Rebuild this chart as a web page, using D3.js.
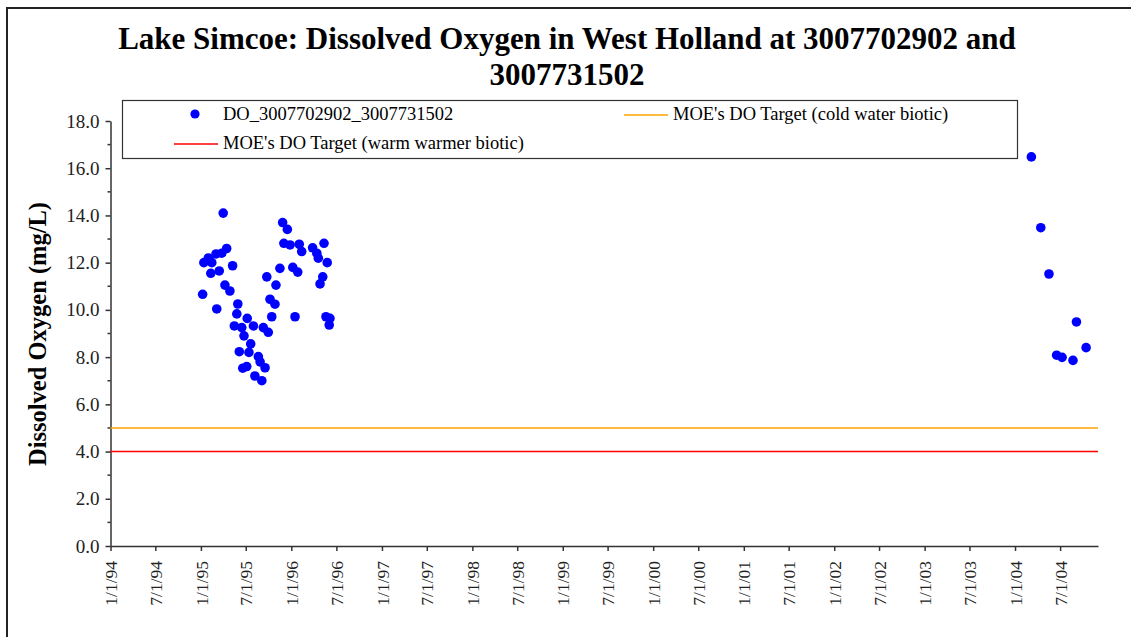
<!DOCTYPE html>
<html>
<head>
<meta charset="utf-8">
<script src="https://cdn.jsdelivr.net/npm/d3@7"></script>
<style>
  html, body { margin: 0; padding: 0; background: #fff; }
  svg { display: block; font-family: "Liberation Serif", "Times New Roman", serif; }
</style>
</head>
<body>
<svg id="chart"></svg>
<script>
const W = 1131;
const H = 637;

// ── Data ──────────────────────────────────────────────────────────────────────

const TITLE_LINES = [
  'Lake Simcoe: Dissolved Oxygen in West Holland at 3007702902 and',
  '3007731502',
];
const Y_LABEL = 'Dissolved Oxygen (mg/L)';
const SERIES_NAME = 'DO_3007702902_3007731502';

const SAMPLE_DATES = [
  '1995-01-08', '1995-01-13', '1995-01-31', '1995-02-10', '1995-02-14',
  '1995-03-03', '1995-03-06', '1995-03-16', '1995-03-26', '1995-04-01',
  '1995-04-08', '1995-04-15', '1995-04-28', '1995-05-09', '1995-05-16',
  '1995-05-26', '1995-05-30', '1995-06-05', '1995-06-15', '1995-06-19',
  '1995-06-24', '1995-07-05', '1995-07-07', '1995-07-14', '1995-07-21',
  '1995-08-01', '1995-08-07', '1995-08-21', '1995-08-28', '1995-09-04',
  '1995-09-10', '1995-09-17', '1995-09-24', '1995-09-30', '1995-10-07',
  '1995-10-14', '1995-10-27', '1995-10-31', '1995-11-16', '1995-11-27',
  '1995-12-02', '1995-12-16', '1995-12-27', '1996-01-07', '1996-01-16',
  '1996-01-27', '1996-02-02', '1996-02-12', '1996-03-27', '1996-04-13',
  '1996-04-19', '1996-04-26', '1996-05-07', '1996-05-12', '1996-05-20',
  '1996-05-25', '1996-06-02', '1996-06-05',
  '2004-03-07', '2004-04-14', '2004-05-17', '2004-06-17', '2004-07-09',
  '2004-08-22', '2004-09-05', '2004-10-14',
];

const DO_VALUES = [
  10.66, 12.0, 12.2, 11.55, 12.0,
  12.37, 10.04, 11.65, 12.4, 14.1,
  11.05, 12.6, 10.8, 11.87, 9.32,
  9.83, 10.25, 8.23, 9.25, 7.53,
  8.9, 7.6, 9.64, 8.2, 8.56,
  9.32, 7.2, 8.02, 7.8, 7.0,
  9.25, 7.55, 11.4, 9.05, 10.45,
  9.71, 10.24, 11.05, 11.76, 13.7,
  12.82, 13.41, 12.75, 11.8, 9.71,
  11.6, 12.78, 12.47, 12.63, 12.4,
  12.19, 11.1, 11.4, 12.82, 9.71,
  12.0, 9.36, 9.64,
  16.48, 13.48, 11.52, 8.08, 7.99,
  7.86, 9.49, 8.4,
];

const TARGET_NAMES  = ["MOE's DO Target (cold water biotic)", "MOE's DO Target (warm warmer biotic)"];
const TARGET_VALUES = [5.0, 4.0];
const TARGET_COLORS = ['#ffa500', '#ff0000'];

const X_DOMAIN = ['1994-01-01', '2004-12-01'];
const Y_DOMAIN = [0, 18];
const Y_TICKS  = [0, 2, 4, 6, 8, 10, 12, 14, 16, 18];

// ── Layout ────────────────────────────────────────────────────────────────────

const M = { left: 110.5, right: 1098, top: 121, bottom: 546 };
const AXIS_COLOR = '#333';
const DOT_COLOR  = '#0000ff';
const SERIF = '"Liberation Serif", "Times New Roman", serif';

const parse = d3.utcParse('%Y-%m-%d');
const points = SAMPLE_DATES.map((d, i) => ({ date: parse(d), value: DO_VALUES[i] }));

const x = d3.scaleUtc().domain(X_DOMAIN.map(parse)).range([M.left, M.right]);
const y = d3.scaleLinear().domain(Y_DOMAIN).range([M.bottom, M.top]);

const svg = d3.select('#chart').attr('width', W).attr('height', H);

// outer frame (runs off the right and bottom edges)
svg.append('rect')
  .attr('x', 7).attr('y', 8)
  .attr('width', W + 20).attr('height', H + 20)
  .attr('fill', 'none').attr('stroke', '#222').attr('stroke-width', 2);

// ── Title ─────────────────────────────────────────────────────────────────────

svg.append('text')
  .attr('x', 567).attr('y', 49)
  .attr('text-anchor', 'middle')
  .style('font-size', '31px').style('font-weight', 'bold')
  .selectAll('tspan')
  .data(TITLE_LINES)
  .join('tspan')
  .attr('x', 567)
  .attr('dy', (d, i) => i === 0 ? 0 : 36)
  .text(d => d);

// ── Axes ──────────────────────────────────────────────────────────────────────

const xTicks = d3.utcMonth.every(6).range(parse('1994-01-01'), parse('2004-12-01'));
const fmt = d3.utcFormat('%-m/%-d/%y');

const xAxis = svg.append('g')
  .attr('transform', `translate(0,${M.bottom})`)
  .call(d3.axisBottom(x).tickValues(xTicks).tickFormat(fmt).tickSize(5).tickSizeOuter(0));

xAxis.select('.domain').attr('stroke', AXIS_COLOR).attr('stroke-width', 1.5);
xAxis.selectAll('.tick line').attr('stroke', AXIS_COLOR).attr('stroke-width', 1.5);
xAxis.selectAll('.tick text')
  .attr('fill', '#222')
  .style('font-size', '17.5px')
  .style('font-family', SERIF)
  .attr('transform', 'rotate(-90)')
  .attr('text-anchor', 'end')
  .attr('x', -15).attr('y', 0).attr('dy', '0.35em');

const yAxis = svg.append('g')
  .attr('transform', `translate(${M.left},0)`)
  .call(d3.axisLeft(y).tickValues(Y_TICKS).tickFormat(d3.format('.1f')).tickSize(5).tickSizeOuter(0));

yAxis.select('.domain').attr('stroke', AXIS_COLOR).attr('stroke-width', 1.5);
yAxis.selectAll('.tick line').attr('stroke', AXIS_COLOR).attr('stroke-width', 1.5);
yAxis.selectAll('.tick text')
  .attr('fill', '#222')
  .attr('x', -11)
  .style('font-size', '19px')
  .style('font-family', SERIF);

// minor ticks at the odd values
svg.append('g')
  .selectAll('line')
  .data(d3.range(1, 18, 2))
  .join('line')
  .attr('x1', M.left - 3).attr('x2', M.left)
  .attr('y1', d => y(d)).attr('y2', d => y(d))
  .attr('stroke', AXIS_COLOR).attr('stroke-width', 1.5);

svg.append('text')
  .attr('transform', `translate(46,334) rotate(-90)`)
  .attr('text-anchor', 'middle')
  .style('font-size', '24.5px').style('font-weight', 'bold')
  .text(Y_LABEL);

// ── Target lines ──────────────────────────────────────────────────────────────

svg.append('g')
  .selectAll('line')
  .data(TARGET_VALUES)
  .join('line')
  .attr('x1', M.left).attr('x2', M.right)
  .attr('y1', d => y(d)).attr('y2', d => y(d))
  .attr('stroke', (d, i) => TARGET_COLORS[i])
  .attr('stroke-width', 1.5);

// ── Points ────────────────────────────────────────────────────────────────────

svg.append('g')
  .selectAll('circle')
  .data(points)
  .join('circle')
  .attr('cx', d => x(d.date))
  .attr('cy', d => y(d.value))
  .attr('r', 4.8)
  .attr('fill', DOT_COLOR);

// ── Legend ────────────────────────────────────────────────────────────────────

const legend = svg.append('g').style('font-size', '18.5px');

legend.append('rect')
  .attr('x', 122.5).attr('y', 100.5)
  .attr('width', 895).attr('height', 58)
  .attr('fill', '#fff').attr('stroke', '#333').attr('stroke-width', 1.2);

legend.append('circle')
  .attr('cx', 195).attr('cy', 114).attr('r', 4.6).attr('fill', DOT_COLOR);
legend.append('text')
  .attr('x', 223).attr('y', 120).text(SERIES_NAME);

const legendLines = [
  { x: 624, y: 115 },
  { x: 174, y: 144 },
];

TARGET_NAMES.forEach((name, i) => {
  const p = legendLines[i];
  legend.append('line')
    .attr('x1', p.x).attr('x2', p.x + 44)
    .attr('y1', p.y).attr('y2', p.y)
    .attr('stroke', TARGET_COLORS[i]).attr('stroke-width', 1.5);
  legend.append('text')
    .attr('x', p.x + 49).attr('y', p.y + 5)
    .text(name);
});
</script>
</body>
</html>
